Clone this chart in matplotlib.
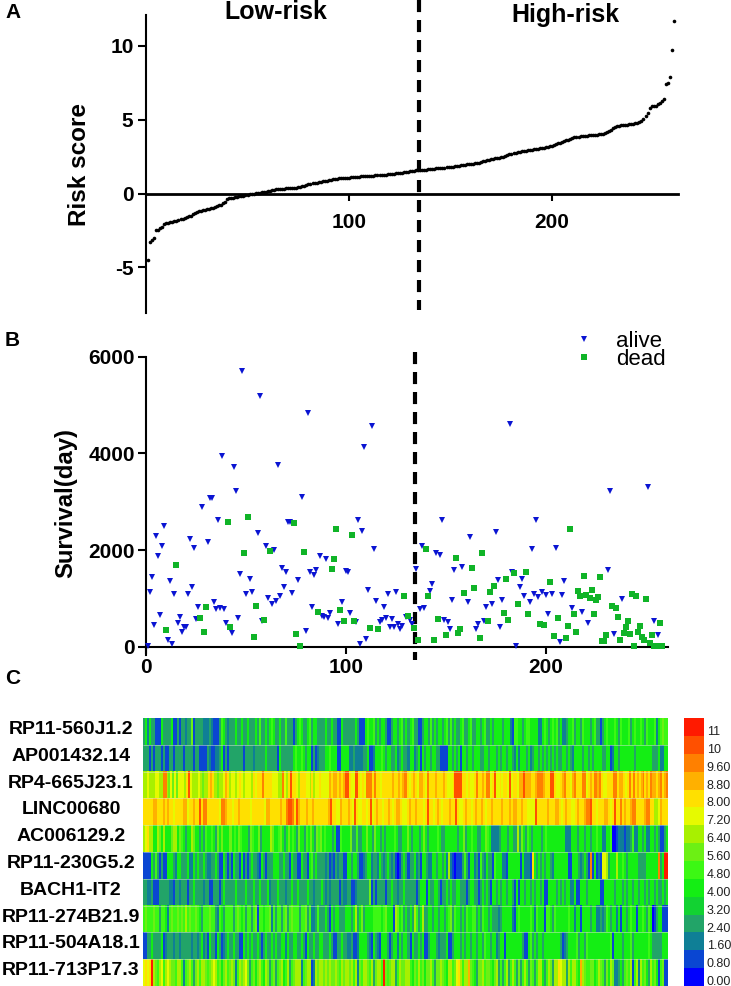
import matplotlib
matplotlib.use('Agg')
import matplotlib.pyplot as plt
from matplotlib.colors import ListedColormap
from matplotlib.lines import Line2D
import numpy as np

plt.rcParams['font.family'] = ['Liberation Sans', 'DejaVu Sans']

W, H = 731, 986

# Panel A, sorted risk score per patient
risk = [-4.5,-3.3,-3.15,-3.0,-2.5,-2.45,-2.35,-2.25,-2.1,-2.0,-1.98,-1.95,-1.9,-1.87,-1.85,-1.8,-1.75,-1.7,-1.65,-1.6,
        -1.55,-1.5,-1.4,-1.3,-1.25,-1.2,-1.18,-1.15,-1.1,-1.05,-1.03,-1.0,-0.95,-0.9,-0.85,-0.8,-0.75,-0.65,-0.55,-0.4,
        -0.33,-0.3,-0.28,-0.25,-0.22,-0.2,-0.17,-0.15,-0.12,-0.08,-0.05,-0.02,0.0,0.02,0.05,0.06,0.08,0.1,0.13,0.16,
        0.2,0.23,0.26,0.28,0.3,0.31,0.32,0.33,0.34,0.35,0.36,0.37,0.38,0.4,0.42,0.46,0.5,0.54,0.58,0.62,
        0.65,0.68,0.71,0.74,0.76,0.79,0.82,0.85,0.88,0.9,0.93,0.95,0.98,1.0,1.02,1.03,1.04,1.05,1.06,1.07,
        1.09,1.1,1.12,1.14,1.15,1.16,1.17,1.18,1.19,1.2,1.21,1.22,1.23,1.24,1.25,1.26,1.27,1.28,1.29,1.3,
        1.32,1.34,1.36,1.38,1.4,1.42,1.44,1.46,1.48,1.5,1.52,1.54,1.56,1.57,1.58,1.59,1.6,1.62,1.64,1.65,
        1.67,1.68,1.7,1.72,1.73,1.74,1.75,1.77,1.79,1.8,1.82,1.84,1.86,1.88,1.9,1.92,1.95,1.97,1.99,2.0,
        2.02,2.04,2.06,2.1,2.14,2.18,2.22,2.26,2.3,2.34,2.37,2.4,2.42,2.44,2.47,2.5,2.55,2.6,2.65,2.7,
        2.73,2.76,2.79,2.82,2.85,2.87,2.9,2.92,2.95,2.97,3.0,3.02,3.04,3.06,3.08,3.1,3.13,3.16,3.2,3.25,
        3.3,3.35,3.4,3.45,3.5,3.55,3.6,3.65,3.7,3.75,3.8,3.83,3.85,3.87,3.88,3.9,3.92,3.94,3.95,3.96,
        3.97,3.98,4.0,4.02,4.05,4.1,4.18,4.25,4.33,4.42,4.52,4.58,4.6,4.62,4.65,4.66,4.67,4.68,4.7,4.72,
        4.75,4.8,4.85,4.9,5.05,5.25,5.45,5.8,5.9,5.93,5.95,6.05,6.15,6.3,6.4,7.4,7.5,7.9,9.7,11.7]

# Panel B, survival in days
alive_x = [1,2,3,4,5,6,7,8,9,11,12,13,14,16,17,18,19,20,21,22,23,24,25,26,28,31,32,33,34,35,36,37,38,39,40,43,44,45,46,47,48,
           50,52,53,56,57,58,60,61,63,64,65,66,67,68,69,70,71,72,73,76,78,80,81,82,83,84,85,87,88,89,90,91,92,96,
           98,100,101,102,105,106,107,108,109,110,111,113,114,115,117,118,119,120,121,122,123,124,125,126,127,128,130,132,133,
           135,137,138,139,142,143,145,147,148,149,151,152,153,154,158,161,162,165,166,169,170,173,175,176,177,178,182,183,185,
           187,188,189,192,193,194,195,196,198,200,201,203,205,207,208,209,213,218,221,231,232,234,238,251,254,256]
alive_y = [20,1125,1450,450,2280,1880,655,2080,2500,130,1365,50,1090,500,615,310,400,415,1090,2235,1235,2035,580,815,2900,2160,3070,3070,920,770,2615,800,3950,770,500,275,3725,3230,600,1510,5705,
           1100,1395,1125,2360,5190,530,2075,1015,875,2000,940,3760,1050,1620,1235,1540,2590,2575,1110,1380,3090,325,4835,1545,830,1490,1580,1875,635,620,1820,600,690,475,
           930,1570,1540,695,505,2615,65,2400,4140,165,1165,4560,2030,950,510,545,815,600,1100,400,570,405,1140,475,360,435,615,550,475,
           1610,770,2080,810,1160,1300,1930,1890,2630,550,505,360,970,1590,1655,920,2270,365,470,525,820,890,2370,1375,415,965,4615,1540,15,
           1230,1400,1040,925,2030,1090,2615,1020,1130,1070,680,1080,2050,95,1070,1360,800,715,480,1580,3230,260,995,3305,540,250]
dead_x = [10,15,27,29,30,41,42,49,51,54,55,59,62,74,75,77,79,86,93,94,95,97,
          99,103,104,112,116,129,131,134,136,140,141,144,146,150,155,156,157,159,163,164,167,168,171,172,174,179,180,181,184,186,190,191,197,199,
          202,204,206,210,211,212,214,215,216,217,219,220,222,223,224,225,226,227,228,229,230,233,235,236,237,239,240,241,242,243,244,245,246,247,248,249,250,252,253,254,255,257,258]
dead_y = [345,1700,600,305,830,2590,400,1930,2680,195,850,550,1970,2560,270,20,1950,725,1615,1815,2440,750,
          530,2310,530,395,370,1050,640,380,130,2020,1055,145,580,250,1835,290,360,1115,1635,1220,170,1945,530,1125,1250,695,1410,550,1525,885,1540,680,475,450,
          1345,215,585,180,430,2440,680,310,1150,1055,1460,1070,1015,1165,680,965,1035,1450,110,110,250,850,800,620,130,290,415,540,270,1100,20,1050,305,430,195,145,985,85,240,20,20,495,10]

# Panel C, one code per patient, index into level_labels (0 is lowest)
genes = ['RP11-560J1.2', 'AP001432.14', 'RP4-665J23.1', 'LINC00680', 'AC006129.2',
         'RP11-230G5.2', 'BACH1-IT2', 'RP11-274B21.9', 'RP11-504A18.1', 'RP11-713P17.3']
heat_codes = [
    '3 5 2 5 3 3 1 1 1 5 3 3 3 3 5 1 1 3 1 3 3 2 3 3 7 1 3 3 3 3 2 2 2 3 2 1 1 1 3 6 5 3 2 3 3 3 5 3 3 5 3 3 5 3 3 3 5 3 6 3 3 5 3 5 6 5 3 3 5 3 3 6 3 3 3 1 3 5 6 5 3 3 5 6 3 5 5 3 '
    '3 3 3 5 3 3 5 3 3 1 1 5 3 3 3 3 3 3 5 3 1 1 1 5 6 5 5 6 3 5 3 5 5 3 1 1 3 5 5 3 5 6 3 5 3 5 6 3 3 1 1 3 5 5 3 6 3 5 3 5 5 3 5 6 3 6 3 5 3 3 5 6 3 3 5 6 3 3 5 5 3 5 6 3 3 5 3 5 '
    '5 5 5 3 5 5 5 2 1 6 6 5 5 3 5 6 6 5 5 5 5 2 2 5 6 5 3 5 6 5 6 3 5 2 2 3 5 5 6 3 5 5 3 6 5 5 5 3 5 6 3 3 1 3 5 6 5 5 5 6 5 3 6 5 5 5 6 3 5 6 5 5 6 5 3 6 5 5 5 6 2 5 6 7 6 6',
    '3 3 3 1 3 1 3 3 3 1 3 1 1 3 3 1 3 3 3 3 1 3 3 3 3 1 3 3 1 1 1 1 3 2 1 1 2 2 3 5 1 3 1 3 3 3 3 3 3 3 1 3 3 3 3 2 3 3 3 3 3 5 3 3 3 3 3 1 5 3 3 3 3 3 3 5 6 5 5 6 5 3 5 5 1 3 1 2 '
    '3 3 3 5 5 6 5 5 5 1 1 5 5 5 5 2 2 3 2 2 2 2 3 3 5 1 1 2 5 5 5 6 5 3 5 5 3 3 5 2 3 5 3 3 2 5 5 2 3 5 1 5 3 5 5 3 5 5 3 3 1 1 1 1 5 5 3 5 3 5 1 5 5 3 5 5 3 5 5 5 3 3 5 5 3 5 5 5 '
    '3 5 3 5 5 3 5 5 3 2 5 2 5 5 5 3 5 2 3 5 5 3 5 3 5 3 5 3 5 3 5 3 3 5 5 3 5 3 2 5 5 5 5 3 5 5 3 5 3 5 5 5 5 3 3 5 5 1 2 5 5 3 5 5 5 5 5 5 5 3 5 5 5 5 5 5 5 5 3 3 3 5 2 2 5 5',
    '8 8 9 8 8 8 9 9 8 8 c c 8 7 9 7 9 7 9 9 9 8 a d 9 8 8 8 9 8 7 8 8 a b a 8 8 7 8 8 9 b a 8 9 9 8 9 a 9 8 9 9 9 8 a 9 a a a c a a a a 9 9 9 8 8 c 9 8 a d a a 9 8 a a a 9 9 8 a 8 '
    '9 9 a 9 9 9 9 b a b b a b a b d d a 9 9 d d a 9 a 9 c c c a c a a 9 a a a a a b a a b a b c c a 9 a b a 9 b b a 9 c a a a b a a a b a 9 9 9 a d d d d a a 9 a 9 9 a c a a b a c c 9 a d '
    '9 9 a 9 a a 9 d 9 a a 9 b b d b b b a a b c c c b a a a d d a 9 9 a b c a a 9 b c a a a c c 9 a b a c c b c a 9 9 a a a c c a b b a 9 a c a c a b a b c a b a c b b a b c a b c',
    'a a a a a b b a a a b a b a a 9 a a a a b b 9 a a b a a d a c c a a a a a a 9 c c b a a 9 a a b a a a a a 9 a a a a a a 9 b b a a a a a b a a c d d c a d b a a a b a a b a a a '
    'a a a a b d a a 9 9 b a a a b a 9 d a 9 9 a a 9 a d 9 a b a a 9 a a b a 9 a b b a 9 9 a b a a b a a a 9 a d a a 9 a b a 9 a a a b a a d a 9 9 a b a a 9 a b a a b a 9 a a b a a '
    'a a b a a a b a b b a a b a a 9 9 9 9 d a a a a a b a a a b b a 9 a b a a 9 9 a b a a b c c d a a 9 a a a b b a 9 a d a a c a b a a b c c a a a a b c c a a 8 8 9 b a a a',
    '8 9 a 8 8 5 5 8 7 5 8 5 5 5 7 8 8 5 7 6 5 3 5 5 8 7 5 5 3 5 3 6 5 5 6 5 3 7 5 7 5 5 5 7 5 6 5 7 6 5 5 5 3 7 6 5 5 7 3 5 5 5 5 8 7 5 5 6 7 5 3 5 7 5 6 5 3 7 5 5 3 6 5 7 5 3 7 6 '
    '7 5 6 5 5 5 3 5 1 1 6 5 5 5 5 7 3 3 6 3 3 5 5 7 5 5 3 7 5 5 3 5 3 5 5 5 5 6 5 3 3 5 5 7 5 3 5 5 5 3 5 7 5 3 5 5 5 5 6 5 3 3 5 5 5 5 5 5 3 5 5 7 3 5 5 6 5 5 3 3 5 5 7 6 5 2 2 2 '
    '2 3 5 5 5 3 5 5 3 3 8 3 7 5 3 6 5 3 5 5 5 5 3 5 6 5 5 5 5 5 5 5 5 5 2 2 2 5 5 5 3 5 5 3 5 5 3 5 5 6 5 5 2 2 5 5 6 0 0 1 2 2 2 1 2 2 3 6 2 2 5 5 3 5 2 2 5 5 3 5 3 1 1 3 5',
    '1 1 1 1 5 3 6 3 1 3 1 1 5 5 5 3 2 5 5 3 3 3 5 2 2 5 3 5 3 3 5 3 2 2 3 3 5 3 1 1 5 3 1 3 1 5 3 3 1 5 1 3 1 3 5 3 3 2 1 5 3 1 3 3 3 5 5 5 3 3 5 3 3 1 5 3 3 1 1 5 3 3 1 5 6 3 5 3 '
    '3 3 3 2 3 1 2 1 3 2 3 3 1 1 5 5 3 5 5 3 1 1 2 3 5 5 2 3 3 2 5 3 2 3 5 3 2 3 1 0 1 3 5 3 1 3 3 5 2 3 1 5 5 3 2 2 5 5 3 5 5 3 5 2 8 2 1 0 1 1 1 3 6 3 1 5 5 2 3 1 6 3 2 5 3 3 1 6 '
    '5 5 5 2 2 1 5 5 5 5 5 5 1 5 2 2 2 1 a 5 3 5 3 5 3 5 5 3 2 5 5 5 5 5 5 5 1 1 5 5 5 3 2 3 5 3 1 c 1 5 1 2 1 9 9 8 3 5 5 5 8 5 5 6 5 3 5 5 5 5 5 3 3 3 3 5 5 5 5 5 5 c 3 5 e e',
    '3 3 2 2 3 1 1 1 3 3 3 3 3 2 2 1 3 3 2 3 3 3 1 3 3 5 3 3 3 3 2 3 3 1 1 3 3 3 1 3 5 3 3 3 3 3 5 3 3 3 3 5 3 3 3 5 3 3 5 3 3 3 5 2 3 3 3 5 3 3 3 2 3 3 5 3 3 5 3 3 3 3 5 3 3 2 3 3 '
    '3 5 3 2 3 2 3 3 3 3 1 3 2 2 3 3 1 1 2 3 3 3 3 3 3 7 1 3 1 3 3 3 3 1 3 3 5 3 3 2 3 3 5 3 3 3 3 3 3 1 3 5 5 5 1 5 3 3 5 5 3 1 3 3 5 3 5 3 3 5 5 3 3 3 1 3 5 5 3 3 1 3 5 3 5 3 1 5 '
    '5 3 5 3 5 5 3 5 5 3 1 5 1 5 5 3 5 5 3 5 3 5 5 3 5 1 1 5 5 5 5 3 5 3 5 3 5 5 2 2 5 1 1 5 5 5 3 5 5 5 5 5 5 1 1 5 5 5 5 5 3 5 5 5 3 5 3 5 5 3 5 5 3 5 5 3 5 3 5 5 3 5 3 3 5 3 5',
    '6 7 6 6 6 7 6 6 3 6 6 5 2 6 7 6 6 7 6 7 6 8 6 7 6 6 7 6 5 3 6 6 6 7 6 6 3 2 6 5 3 6 6 6 6 3 6 7 6 5 6 3 6 6 3 6 7 1 6 6 5 6 6 7 2 6 3 6 6 3 6 7 3 6 7 6 6 6 3 6 6 7 3 6 2 2 3 6 '
    '3 3 3 5 3 1 5 3 5 5 3 3 3 5 5 5 3 5 8 3 5 7 3 5 5 5 5 6 6 6 6 5 6 7 5 5 5 1 8 7 5 6 3 5 3 5 3 8 6 3 5 8 3 3 5 5 3 5 5 3 5 5 3 5 6 7 3 6 5 5 3 5 3 6 5 5 6 6 3 5 3 6 5 5 3 5 3 3 '
    '3 2 3 5 5 5 5 5 2 1 5 6 5 5 5 5 5 6 5 2 6 5 5 5 1 6 6 5 3 6 5 5 5 5 5 5 6 5 5 2 5 5 1 5 5 5 5 3 5 5 2 2 3 2 3 6 5 3 5 5 2 5 1 5 5 3 5 6 5 5 1 5 5 6 5 3 6 5 0 1 3 5 5 1 1 1',
    '1 1 3 3 5 3 3 3 3 5 1 2 3 3 3 2 3 3 2 3 3 3 3 3 2 3 3 2 3 5 2 3 1 5 3 3 1 5 3 1 2 3 5 3 3 5 3 3 1 1 5 3 5 3 5 3 3 5 3 1 3 5 3 3 5 3 5 3 3 5 5 2 5 3 3 5 5 3 3 5 3 1 5 3 3 5 3 3 '
    '5 5 3 3 3 5 3 1 1 3 3 5 3 3 2 2 3 1 1 2 5 5 5 5 3 2 1 5 3 2 1 5 5 5 3 1 3 5 5 2 5 3 5 5 3 1 5 3 3 5 3 5 1 1 3 5 5 5 3 2 3 3 3 5 1 1 3 5 5 5 3 5 3 5 5 3 5 5 3 5 5 3 6 5 5 3 5 5 '
    '2 3 5 5 1 5 5 5 5 5 5 5 5 3 1 1 5 6 3 5 3 5 5 3 5 5 5 5 5 5 5 5 3 1 2 3 5 5 5 5 6 3 5 5 3 6 5 5 5 5 5 5 5 5 5 5 5 6 1 5 5 5 5 3 5 5 5 6 3 5 5 5 5 5 5 5 6 5 3 3 3 3 3 5 5 5',
    '9 a 9 a e 8 7 6 8 9 6 8 9 8 7 7 6 8 8 6 2 6 7 8 6 3 7 8 6 8 8 7 6 7 8 9 8 6 7 5 7 8 6 7 8 7 2 6 8 7 8 9 7 3 6 7 5 7 8 6 5 8 7 3 6 7 3 6 7 8 5 6 8 3 6 7 8 8 8 2 6 7 8 8 1 2 8 7 '
    '8 8 7 8 7 8 7 7 8 7 6 8 7 8 8 7 8 6 8 2 7 6 8 8 7 6 8 3 7 8 8 6 e 7 6 7 8 8 3 6 8 7 7 8 8 6 5 7 6 8 6 7 5 7 7 8 6 3 7 7 8 7 6 5 8 8 6 7 9 a 8 6 8 8 b 7 6 5 3 7 7 8 6 7 7 6 5 7 '
    '8 3 6 3 6 8 3 6 8 6 3 7 3 6 8 6 3 7 6 3 6 8 8 5 3 6 8 7 3 8 8 a 9 8 8 3 8 6 8 8 6 5 b 8 7 6 6 7 7 5 6 8 7 6 3 7 5 8 7 2 2 3 5 3 6 7 6 8 1 6 8 2 8 6 7 5 3 8 6 7 5 1 6 7 1 1',
]
level_labels = ['0.00', '0.80', '1.60', '2.40', '3.20', '4.00', '4.80', '5.60', '6.40',
                '7.20', '8.00', '8.80', '9.60', '10', '11']
level_colors = ['#0000ff', '#0a46d2', '#0f7f96', '#22a468', '#12d232', '#14ee14', '#3cf814', '#6cf014',
                '#a8f000', '#e6fa00', '#ffe000', '#ffb000', '#ff8000', '#ff5000', '#ff1a00']
cut_x = 134.5


def box(left, top, right, bottom):
    # axes from pixel edges of the picture
    return fig.add_axes([left / W, 1 - bottom / H, (right - left) / W, (bottom - top) / H])


fig = plt.figure(figsize=(W / 100, H / 100), dpi=100, facecolor='white')

# Panel A
ax = box(146, 15, 678, 313)
ax.patch.set_alpha(0)
ax.set_xlim(0, 262)
ax.set_ylim(-8.1, 12.1)
ax.plot(np.arange(1, len(risk) + 1), risk, 'o', color='black', ms=2.6, mew=0, clip_on=False)
ax.plot([cut_x, cut_x], [13.1, -7.9], color='black', lw=3, ls=(0, (2.9, 1.9)), clip_on=False)
ax.spines[['top', 'right']].set_visible(False)
ax.spines['left'].set_linewidth(1.5)
ax.spines['bottom'].set_position(('data', 0))
ax.spines['bottom'].set_linewidth(2)
ax.set_xticks([100, 200])
ax.set_yticks([-5, 0, 5, 10])
ax.set_yticklabels(['-5', '0', '5', '10'])
ax.tick_params(axis='x', length=5, width=1.5, pad=9, labelsize=15)
ax.tick_params(axis='y', length=6, width=1.5, pad=3, labelsize=15)
for t in ax.get_xticklabels() + ax.get_yticklabels():
    t.set_fontweight('bold')

# Panel B
bx = box(146, 356.7, 668, 655)
bx.patch.set_alpha(0)
bx.set_xlim(0, 261)
bx.set_ylim(-172, 6000)
bx.plot(alive_x, alive_y, 'v', color='#0a14d2', ms=4.2, mew=0, clip_on=False, zorder=3)
bx.plot(dead_x, dead_y, 's', color='#10b428', ms=4.4, mew=0, clip_on=False, zorder=3)
bx.plot([cut_x, cut_x], [6098, -275], color='black', lw=3, ls=(0, (2.9, 1.9)), clip_on=False)
bx.spines[['top', 'right']].set_visible(False)
bx.spines['left'].set_linewidth(1.5)
bx.spines['bottom'].set_position(('data', 0))
bx.spines['bottom'].set_linewidth(1.5)
bx.set_xticks([0, 100, 200])
bx.set_yticks([0, 2000, 4000, 6000])
bx.tick_params(axis='x', length=5, width=1.5, pad=3, labelsize=15)
bx.tick_params(axis='y', length=6, width=1.5, pad=2, labelsize=15)
for t in bx.get_xticklabels() + bx.get_yticklabels():
    t.set_fontweight('bold')
handles = [Line2D([], [], ls='', marker='v', color='#0a14d2', ms=4.2, mew=0),
           Line2D([], [], ls='', marker='s', color='#10b428', ms=4.4, mew=0)]
fig.legend(handles, ['alive', 'dead'], loc='upper left', bbox_to_anchor=(562 / W, 1 - 331 / H),
           frameon=False, fontsize=16, labelspacing=-0.15, handletextpad=0.45,
           borderpad=0, borderaxespad=0)

# Panel C
hx = box(143, 718, 668, 986)
cmap = ListedColormap(level_colors)
for i, row in enumerate(heat_codes):
    vals = [[int(c, 16) for c in row.split()]]
    hx.imshow(vals, cmap=cmap, vmin=-0.5, vmax=14.5, aspect='auto', interpolation='nearest',
              extent=[0, 259, i + 1, i])
hx.set_xlim(0, 259)
hx.set_ylim(10, 0)
hx.hlines(range(1, 10), 0, 259, color='#d8e8d0', lw=0.6, alpha=0.6)
hx.axis('off')
for i, g in enumerate(genes):
    fig.text(71 / W, 1 - (729.5 + 26.8 * i) / H, g, ha='center', va='center', fontsize=14, fontweight='bold')

cx = box(684, 718, 704, 986)
cx.imshow(np.arange(len(level_labels)).reshape(-1, 1), cmap=cmap, vmin=-0.5, vmax=14.5, aspect='auto',
          origin='lower', interpolation='nearest', extent=[0, 1, 0, len(level_labels)])
cx.set_xticks([])
cx.yaxis.tick_right()
cx.set_yticks(np.arange(len(level_labels)) + 0.3)
cx.set_yticklabels(level_labels, fontsize=9, color='#222222')
cx.tick_params(axis='y', length=0, pad=2)
for s in cx.spines.values():
    s.set_visible(False)

# Text around the panels
fig.text(276 / W, 1 - 12 / H, 'Low-risk', ha='center', va='center', fontsize=18, fontweight='bold')
fig.text(565 / W, 1 - 15 / H, 'High-risk', ha='center', va='center', fontsize=18, fontweight='bold')
fig.text(79 / W, 1 - 164 / H, 'Risk score', rotation=90, ha='center', va='center', fontsize=17.5, fontweight='bold')
fig.text(66 / W, 1 - 503 / H, 'Survival(day)', rotation=90, ha='center', va='center', fontsize=17.2, fontweight='bold')
fig.text(5 / W, 1 - 13 / H, 'A', ha='left', va='center', fontsize=15, fontweight='bold')
fig.text(5 / W, 1 - 340 / H, 'B', ha='left', va='center', fontsize=15, fontweight='bold')
fig.text(5 / W, 1 - 678 / H, 'C', ha='left', va='center', fontsize=15, fontweight='bold')

fig.savefig('out.png', dpi=100)
